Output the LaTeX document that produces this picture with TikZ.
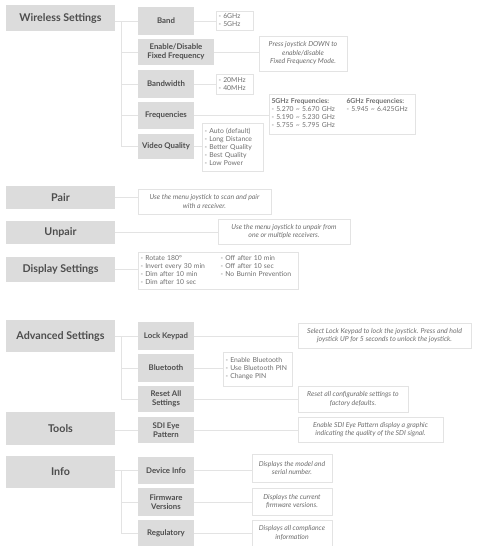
\documentclass[tikz,border=0pt]{standalone}
\usepackage{fontspec}
\setmainfont{Lato}
\definecolor{boxgrey}{HTML}{DCDCDC}
\definecolor{linegrey}{HTML}{E3E3E3}
\definecolor{labelgrey}{HTML}{4D4D4D}
\definecolor{notegrey}{HTML}{6E6E6E}
\tikzset{
  menu/.style={fill=boxgrey, text=labelgrey, inner sep=0pt, minimum width=109pt,
    font=\fontsize{10.7}{12}\selectfont\bfseries},
  item/.style={fill=boxgrey, text=labelgrey, inner sep=0pt, minimum width=56pt,
    align=center, font=\fontsize{7.8}{9}\selectfont\bfseries},
  note/.style={draw=linegrey, fill=white, text=notegrey, inner xsep=2.5pt, inner ysep=0pt,
    font=\fontsize{6.8}{8}\selectfont},
  desc/.style={note, align=center, font=\fontsize{6.9}{8.5}\selectfont\itshape},
  list/.style={note, align=left},
  link/.style={draw=linegrey, line width=0.8pt},
}
\newcommand{\tl}{\textasciitilde}
\begin{document}
\begin{tikzpicture}[x=1pt, y=-1pt]
  \useasboundingbox (0,0) rectangle (477,546);

  % top level menus
  \node[menu, minimum height=26pt] (wireless) at (60.5,18) {Wireless Settings};
  \node[menu, minimum height=23pt] (pair) at (60.5,197.5) {Pair};
  \node[menu, minimum height=23pt] (unpair) at (60.5,232.5) {Unpair};
  \node[menu, minimum height=25pt] (display) at (60.5,269.5) {Display Settings};
  \node[menu, minimum height=32pt] (advanced) at (60.5,336) {Advanced Settings};
  \node[menu, minimum height=33pt] (tools) at (60.5,428.5) {Tools};
  \node[menu, minimum height=32pt] (info) at (60.5,472) {Info};

  % sub menus
  \node[item, minimum height=28pt] (band) at (166,21) {Band};
  \node[item, minimum height=26pt, minimum width=76pt] (enable) at (176,52) {Enable/Disable\\Fixed Frequency};
  \node[item, minimum height=28pt] (bandwidth) at (166,84) {Bandwidth};
  \node[item, minimum height=27pt] (freq) at (166,115.5) {Frequencies};
  \node[item, minimum height=25pt] (video) at (166,146.5) {Video Quality};
  \node[item, minimum height=28pt] (lock) at (166,336) {Lock Keypad};
  \node[item, minimum height=28pt] (bluetooth) at (166,368) {Bluetooth};
  \node[item, minimum height=26pt] (reset) at (166,399) {Reset All\\Settings};
  \node[item, minimum height=26pt] (sdi) at (166,430) {SDI Eye\\Pattern};
  \node[item, minimum height=27pt] (device) at (166,470.5) {Device Info};
  \node[item, minimum height=28pt] (firmware) at (166,502) {Firmware\\Versions};
  \node[item, minimum height=26pt] (regulatory) at (166,533) {Regulatory};

  % notes
  \node[list, text width=32pt, minimum height=19pt] (bandN) at (234.5,20.5) {- 6GHz\\- 5GHz};
  \node[desc, minimum width=88pt, minimum height=35pt] (enableN) at (303,53.5)
    {Press joystick DOWN to\\enable/disable\\Fixed Frequency Mode.};
  \node[list, text width=32pt, minimum height=20pt] (bandwidthN) at (234.5,84) {- 20MHz\\- 40MHz};
  \node[list, text width=141pt, minimum height=40pt] (freqN) at (342,114) {%
    \begin{tabular}{@{}p{75pt}@{}l@{}}
      \textbf{5GHz Frequencies:} & \textbf{6GHz Frequencies:}\\
      - 5.270 \tl{} 5.670 GHz & - 5.945 \tl{} 6.425GHz\\
      - 5.190 \tl{} 5.230 GHz & \\
      - 5.755 \tl{} 5.795 GHz &
    \end{tabular}};
  \node[list, text width=56pt, minimum height=48pt] (videoN) at (232.5,147)
    {- Auto (default)\\- Long Distance\\- Better Quality\\- Best Quality\\- Low Power};
  \node[desc, minimum width=133pt, minimum height=25pt] (pairN) at (204.5,201.5)
    {Use the menu joystick to scan and pair\\with a receiver.};
  \node[desc, minimum width=132pt, minimum height=25pt] (unpairN) at (284,231.5)
    {Use the menu joystick to unpair from\\one or multiple receivers.};
  \node[list, text width=155pt, minimum height=37pt] (displayN) at (218,270.5) {%
    \begin{tabular}{@{}p{80pt}@{}l@{}}
      - Rotate 180° & - Off after 10 min\\
      - Invert every 30 min & - Off after 10 sec\\
      - Dim after 10 min & - No Burnin Prevention\\
      - Dim after 10 sec &
    \end{tabular}};
  \node[desc, minimum width=173pt, minimum height=25pt] (lockN) at (384.5,335.5)
    {Select Lock Keypad to lock the joystick. Press and hold\\joystick UP for 5 seconds to unlock the joystick.};
  \node[list, text width=64pt, minimum height=34pt] (bluetoothN) at (257.5,369)
    {- Enable Bluetooth\\- Use Bluetooth PIN\\- Change PIN};
  \node[desc, minimum width=110pt, minimum height=26pt] (resetN) at (353,399)
    {Reset all configurable settings to\\factory defaults.};
  \node[desc, minimum width=145pt, minimum height=25pt] (sdiN) at (370.5,429.5)
    {Enable SDI Eye Pattern display a graphic\\indicating the quality of the SDI signal.};
  \node[desc, minimum width=80pt, minimum height=28pt] (deviceN) at (292,468)
    {Displays the model and\\serial number.};
  \node[desc, minimum width=80pt, minimum height=27pt] (firmwareN) at (292,501.5)
    {Displays the current\\firmware versions.};
  \node[desc, minimum width=80pt, minimum height=26pt] (regulatoryN) at (292,533)
    {Displays all compliance\\information};

  % trunks
  \coordinate (wtrunk) at (121,21);
  \coordinate (atrunk) at (121,336);
  \coordinate (itrunk) at (121,470.5);
  \draw[link] (wireless.east |- band.west) -- (band.west);
  \draw[link] (wtrunk) -- (wtrunk |- video.west);
  \foreach \n in {enable,bandwidth,freq,video}
    \draw[link] (wtrunk |- \n.west) -- (\n.west);
  \draw[link] (advanced.east |- lock.west) -- (lock.west);
  \draw[link] (atrunk) -- (atrunk |- reset.west);
  \foreach \n in {bluetooth,reset}
    \draw[link] (atrunk |- \n.west) -- (\n.west);
  \draw[link] (tools.east |- sdi.west) -- (sdi.west);
  \draw[link] (info.east |- device.west) -- (device.west);
  \draw[link] (itrunk) -- (itrunk |- regulatory.west);
  \foreach \n in {firmware,regulatory}
    \draw[link] (itrunk |- \n.west) -- (\n.west);

  % menus to notes
  \foreach \a in {pair,unpair,display}
    \draw[link] (\a.east) -- (\a.east -| \a N.west);
  \foreach \a in {band,enable,bandwidth,freq,video,lock,bluetooth,reset,sdi,device,firmware,regulatory}
    \draw[link] (\a.east) -- (\a.east -| \a N.west);
\end{tikzpicture}
\end{document}
